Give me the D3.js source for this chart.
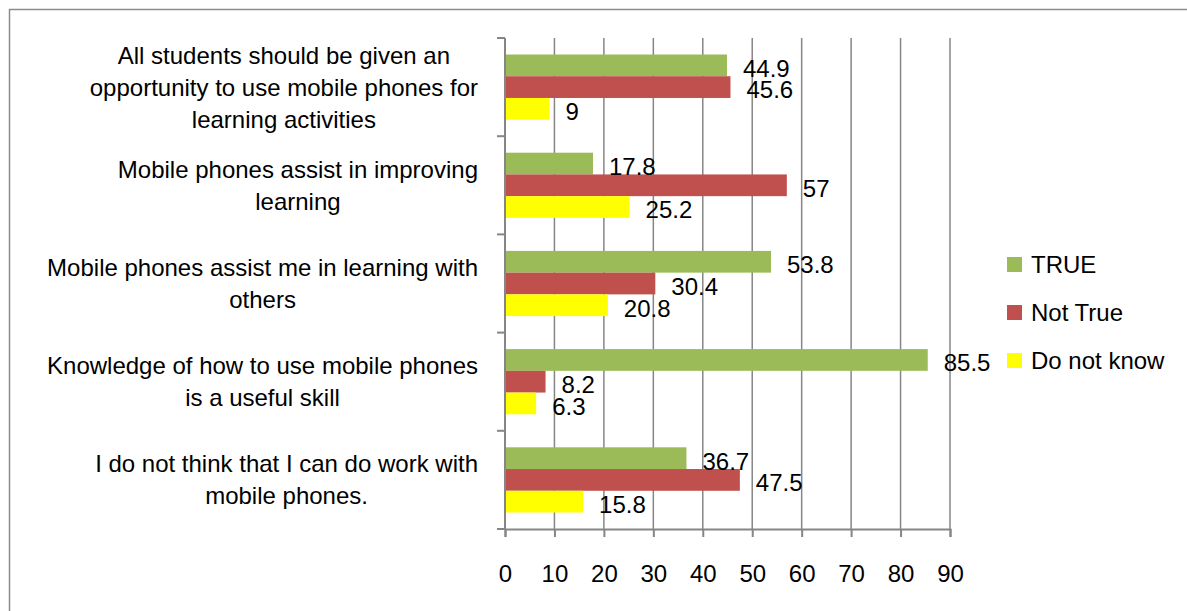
<!DOCTYPE html>
<html>
<head>
<meta charset="utf-8">
<script src="https://cdn.jsdelivr.net/npm/d3@7"></script>
<style>
  html, body { margin: 0; padding: 0; background: #fff; }
  svg text { font-family: "Liberation Sans", Arial, sans-serif; fill: #000; }
</style>
</head>
<body>
<svg id="chart" width="1187" height="611"></svg>
<script>
const categories = [
  ["All students should be given an", "opportunity to use mobile phones for", "learning activities"],
  ["Mobile phones assist in improving", "learning"],
  ["Mobile phones assist me in learning with", "others"],
  ["Knowledge of how to use mobile phones", "is a useful skill"],
  ["I do not think that I can do work with", "mobile phones."]
];
const seriesNames = ["TRUE", "Not True", "Do not know"];
const trueValues = [44.9, 17.8, 53.8, 85.5, 36.7];
const notTrueValues = [45.6, 57, 30.4, 8.2, 47.5];
const dontKnowValues = [9, 25.2, 20.8, 6.3, 15.8];
const xTicks = [0, 10, 20, 30, 40, 50, 60, 70, 80, 90];
const colors = ["#9BBB59", "#C0504D", "#FFFF00"];

const seriesValues = [trueValues, notTrueValues, dontKnowValues];
const svg = d3.select("#chart");

// outer frame
svg.append("rect").attr("x", 9.5).attr("y", 9.5).attr("width", 1200).attr("height", 620)
  .attr("fill", "none").attr("stroke", "#8c8c8c").attr("stroke-width", 1.5);

const x = d3.scaleLinear().domain([0, 90]).range([505, 950]);
const catIdx = categories.map((d, i) => i);
const y0 = d3.scaleBand().domain(catIdx).range([38, 529]).paddingInner(0.336).paddingOuter(0.168);
const y1 = d3.scaleBand().domain(d3.range(seriesNames.length)).range([0, y0.bandwidth()]);

const gridColor = "#868686";
// vertical gridlines
svg.append("g").selectAll("line").data(xTicks.filter(t => t > 0)).join("line")
  .attr("x1", d => x(d)).attr("x2", d => x(d))
  .attr("y1", 38).attr("y2", 529)
  .attr("stroke", gridColor).attr("stroke-width", 1.5);

// bars
const groups = svg.append("g").selectAll("g").data(catIdx).join("g")
  .attr("transform", d => `translate(0,${y0(d)})`);
groups.selectAll("rect").data(ci => seriesValues.map((vals, si) => ({ si, v: vals[ci] }))).join("rect")
  .attr("x", x(0))
  .attr("y", d => y1(d.si))
  .attr("width", d => x(d.v) - x(0))
  .attr("height", y1.bandwidth())
  .attr("fill", d => colors[d.si]);

// value labels
groups.selectAll("text").data(ci => seriesValues.map((vals, si) => ({ si, v: vals[ci] }))).join("text")
  .attr("x", d => x(d.v) + 16)
  .attr("y", d => y1(d.si) + y1.bandwidth() + 0.5)
  .attr("font-size", 24)
  .text(d => d.v);

// y axis
svg.append("line").attr("x1", x(0)).attr("x2", x(0)).attr("y1", 38).attr("y2", 529)
  .attr("stroke", gridColor).attr("stroke-width", 2);
const yTickPos = catIdx.map(i => y0(i) - y0.step() * 0.168).concat([529]);
svg.append("g").selectAll("line").data(yTickPos).join("line")
  .attr("x1", 497).attr("x2", x(0)).attr("y1", d => d).attr("y2", d => d)
  .attr("stroke", gridColor).attr("stroke-width", 2);

// x axis
const xAxis = d3.axisBottom(x).tickValues(xTicks).tickSize(8).tickPadding(28).tickFormat(d3.format("d"));
const xg = svg.append("g").attr("transform", "translate(0,529)").call(xAxis);
xg.select(".domain").attr("stroke", gridColor).attr("stroke-width", 2);
xg.selectAll(".tick line").attr("stroke", gridColor).attr("stroke-width", 2);
xg.selectAll(".tick text").attr("font-size", 24).attr("font-family", "Liberation Sans, Arial, sans-serif").attr("fill", "#000");

// category labels
const lineH = 32;
catIdx.forEach(i => {
  const lines = categories[i];
  const cy = y0(i) + y0.bandwidth() / 2;
  const g = svg.append("g");
  const texts = lines.map((ln, k) => g.append("text")
    .attr("y", cy + (k - (lines.length - 1) / 2) * lineH)
    .attr("dy", "0.35em")
    .attr("font-size", 24)
    .attr("text-anchor", "middle")
    .text(ln));
  const maxW = d3.max(texts, t => t.node().getComputedTextLength());
  texts.forEach(t => t.attr("x", 478 - maxW / 2));
});

// legend
const legend = svg.append("g").selectAll("g").data(seriesNames).join("g")
  .attr("transform", (d, i) => `translate(1007,${257 + i * 48})`);
legend.append("rect").attr("width", 15).attr("height", 15).attr("fill", (d, i) => colors[i]);
legend.append("text").attr("x", 24).attr("y", 7.5).attr("dy", "0.35em").attr("font-size", 24).text(d => d);
</script>
</body>
</html>
